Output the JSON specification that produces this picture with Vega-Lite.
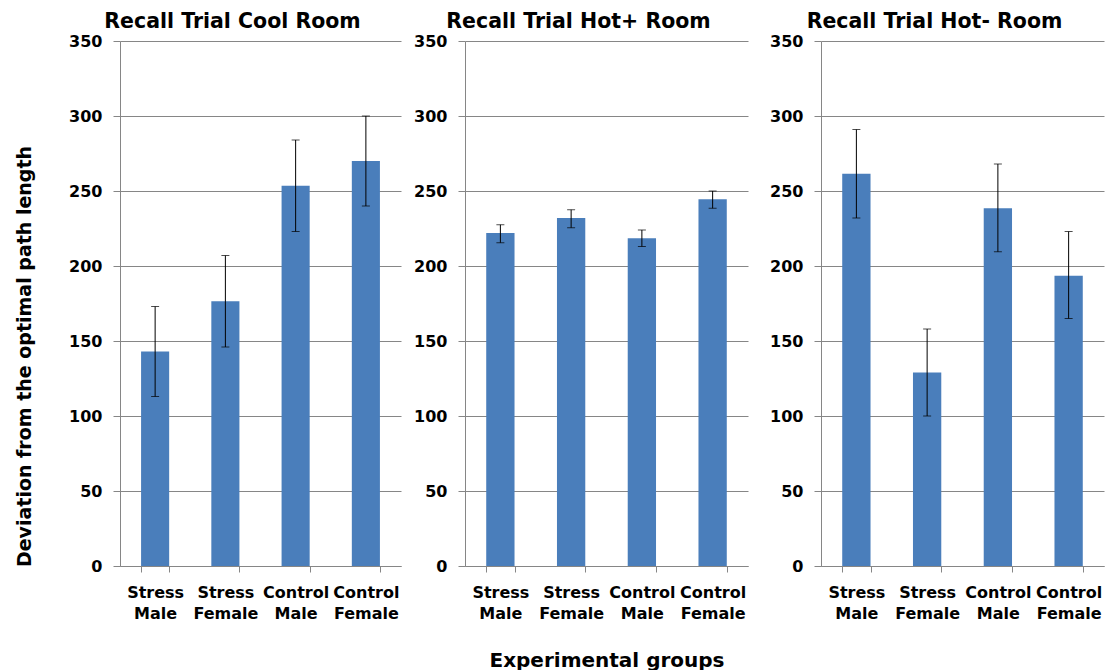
{
  "$schema": "https://vega.github.io/schema/vega-lite/v6.json",
  "background": "white",
  "padding": {"left": 15, "top": 11, "right": 4, "bottom": 0},
  "datasets": {
    "d": [
      {"panel": "Cool", "group": "Stress Male", "mean": 143, "lo": 113, "hi": 173},
      {"panel": "Cool", "group": "Stress Female", "mean": 176.5, "lo": 146, "hi": 207},
      {"panel": "Cool", "group": "Control Male", "mean": 253.5, "lo": 223, "hi": 284},
      {"panel": "Cool", "group": "Control Female", "mean": 270, "lo": 240, "hi": 300},
      {"panel": "HotPlus", "group": "Stress Male", "mean": 222, "lo": 215.5, "hi": 227.5},
      {"panel": "HotPlus", "group": "Stress Female", "mean": 232, "lo": 225.5, "hi": 237.5},
      {"panel": "HotPlus", "group": "Control Male", "mean": 218.5, "lo": 213, "hi": 224},
      {"panel": "HotPlus", "group": "Control Female", "mean": 244.5, "lo": 238.5, "hi": 250},
      {"panel": "HotMinus", "group": "Stress Male", "mean": 261.5, "lo": 232, "hi": 291},
      {"panel": "HotMinus", "group": "Stress Female", "mean": 129, "lo": 100, "hi": 158},
      {"panel": "HotMinus", "group": "Control Male", "mean": 238.5, "lo": 209.5, "hi": 268},
      {"panel": "HotMinus", "group": "Control Female", "mean": 193.5, "lo": 165, "hi": 223}
    ]
  },
  "config": {
    "font": "DejaVu Sans",
    "view": {"stroke": null},
    "axis": {
      "labelFont": "DejaVu Sans",
      "labelFontWeight": "bold",
      "labelFontSize": 16,
      "labelColor": "black",
      "titleFont": "DejaVu Sans",
      "titleFontWeight": "bold",
      "titleColor": "black",
      "domainColor": "#868686",
      "tickColor": "#868686",
      "gridColor": "#868686",
      "domainWidth": 1,
      "tickWidth": 1,
      "gridWidth": 1
    },
    "title": {"font": "DejaVu Sans", "fontSize": 20.5, "fontWeight": "bold", "color": "black", "anchor": "middle", "dx": -28, "offset": 1}
  },
  "spacing": 12,
  "hconcat": [
    {
      "width": 281, "height": 525,
      "title": "Recall Trial Cool Room",
      "data": {"name": "d"},
      "transform": [{"filter": "datum.panel === 'Cool'"}],
      "encoding": {
        "x": {"field": "group", "type": "nominal", "sort": ["Stress Male", "Stress Female", "Control Male", "Control Female"],
          "scale": {"paddingInner": 0.6, "paddingOuter": 0.3},
          "axis": {"title": null, "labelAngle": 0, "labelExpr": "split(datum.label, ' ')", "labelLineHeight": 21, "labelBaseline": "top", "labelPadding": 12, "tickSize": 6, "tickBand": "extent", "grid": false}}
      },
      "layer": [
        {"mark": {"type": "bar", "color": "#4A7EBB"},
         "encoding": {"y": {"field": "mean", "type": "quantitative", "title": "Deviation from the optimal path length",
           "scale": {"domain": [0, 350]},
           "axis": {"values": [0, 50, 100, 150, 200, 250, 300, 350], "grid": true, "tickSize": 7, "labelPadding": 11, "titleFontSize": 19, "titleX": -86, "titleY": 315}}}},
        {"mark": {"type": "rule", "color": "black", "strokeWidth": 1},
         "encoding": {"y": {"field": "lo", "type": "quantitative", "title": "Deviation from the optimal path length"}, "y2": {"field": "hi"}}},
        {"mark": {"type": "tick", "color": "black", "size": 8, "thickness": 1},
         "encoding": {"y": {"field": "lo", "type": "quantitative", "title": "Deviation from the optimal path length"}}},
        {"mark": {"type": "tick", "color": "black", "size": 8, "thickness": 1},
         "encoding": {"y": {"field": "hi", "type": "quantitative", "title": "Deviation from the optimal path length"}}}
      ]
    },
    {
      "width": 283, "height": 525,
      "title": "Recall Trial Hot+ Room",
      "data": {"name": "d"},
      "transform": [{"filter": "datum.panel === 'HotPlus'"}],
      "encoding": {
        "x": {"field": "group", "type": "nominal", "sort": ["Stress Male", "Stress Female", "Control Male", "Control Female"],
          "title": "Experimental groups",
          "scale": {"paddingInner": 0.6, "paddingOuter": 0.3},
          "axis": {"labelAngle": 0, "labelExpr": "split(datum.label, ' ')", "labelLineHeight": 21, "labelBaseline": "top", "labelPadding": 12, "tickSize": 6, "tickBand": "extent", "grid": false, "titleFontSize": 20, "titlePadding": 29}}
      },
      "layer": [
        {"mark": {"type": "bar", "color": "#4A7EBB"},
         "encoding": {"y": {"field": "mean", "type": "quantitative", "title": null,
           "scale": {"domain": [0, 350]},
           "axis": {"values": [0, 50, 100, 150, 200, 250, 300, 350], "grid": true, "tickSize": 7, "labelPadding": 11}}}},
        {"mark": {"type": "rule", "color": "black", "strokeWidth": 1},
         "encoding": {"y": {"field": "lo", "type": "quantitative", "title": null}, "y2": {"field": "hi"}}},
        {"mark": {"type": "tick", "color": "black", "size": 8, "thickness": 1},
         "encoding": {"y": {"field": "lo", "type": "quantitative", "title": null}}},
        {"mark": {"type": "tick", "color": "black", "size": 8, "thickness": 1},
         "encoding": {"y": {"field": "hi", "type": "quantitative", "title": null}}}
      ]
    },
    {
      "width": 283, "height": 525,
      "title": "Recall Trial Hot- Room",
      "data": {"name": "d"},
      "transform": [{"filter": "datum.panel === 'HotMinus'"}],
      "encoding": {
        "x": {"field": "group", "type": "nominal", "sort": ["Stress Male", "Stress Female", "Control Male", "Control Female"],
          "scale": {"paddingInner": 0.6, "paddingOuter": 0.3},
          "axis": {"title": null, "labelAngle": 0, "labelExpr": "split(datum.label, ' ')", "labelLineHeight": 21, "labelBaseline": "top", "labelPadding": 12, "tickSize": 6, "tickBand": "extent", "grid": false}}
      },
      "layer": [
        {"mark": {"type": "bar", "color": "#4A7EBB"},
         "encoding": {"y": {"field": "mean", "type": "quantitative", "title": null,
           "scale": {"domain": [0, 350]},
           "axis": {"values": [0, 50, 100, 150, 200, 250, 300, 350], "grid": true, "tickSize": 7, "labelPadding": 11, "minExtent": 61}}}},
        {"mark": {"type": "rule", "color": "black", "strokeWidth": 1},
         "encoding": {"y": {"field": "lo", "type": "quantitative", "title": null}, "y2": {"field": "hi"}}},
        {"mark": {"type": "tick", "color": "black", "size": 8, "thickness": 1},
         "encoding": {"y": {"field": "lo", "type": "quantitative", "title": null}}},
        {"mark": {"type": "tick", "color": "black", "size": 8, "thickness": 1},
         "encoding": {"y": {"field": "hi", "type": "quantitative", "title": null}}}
      ]
    }
  ]
}
